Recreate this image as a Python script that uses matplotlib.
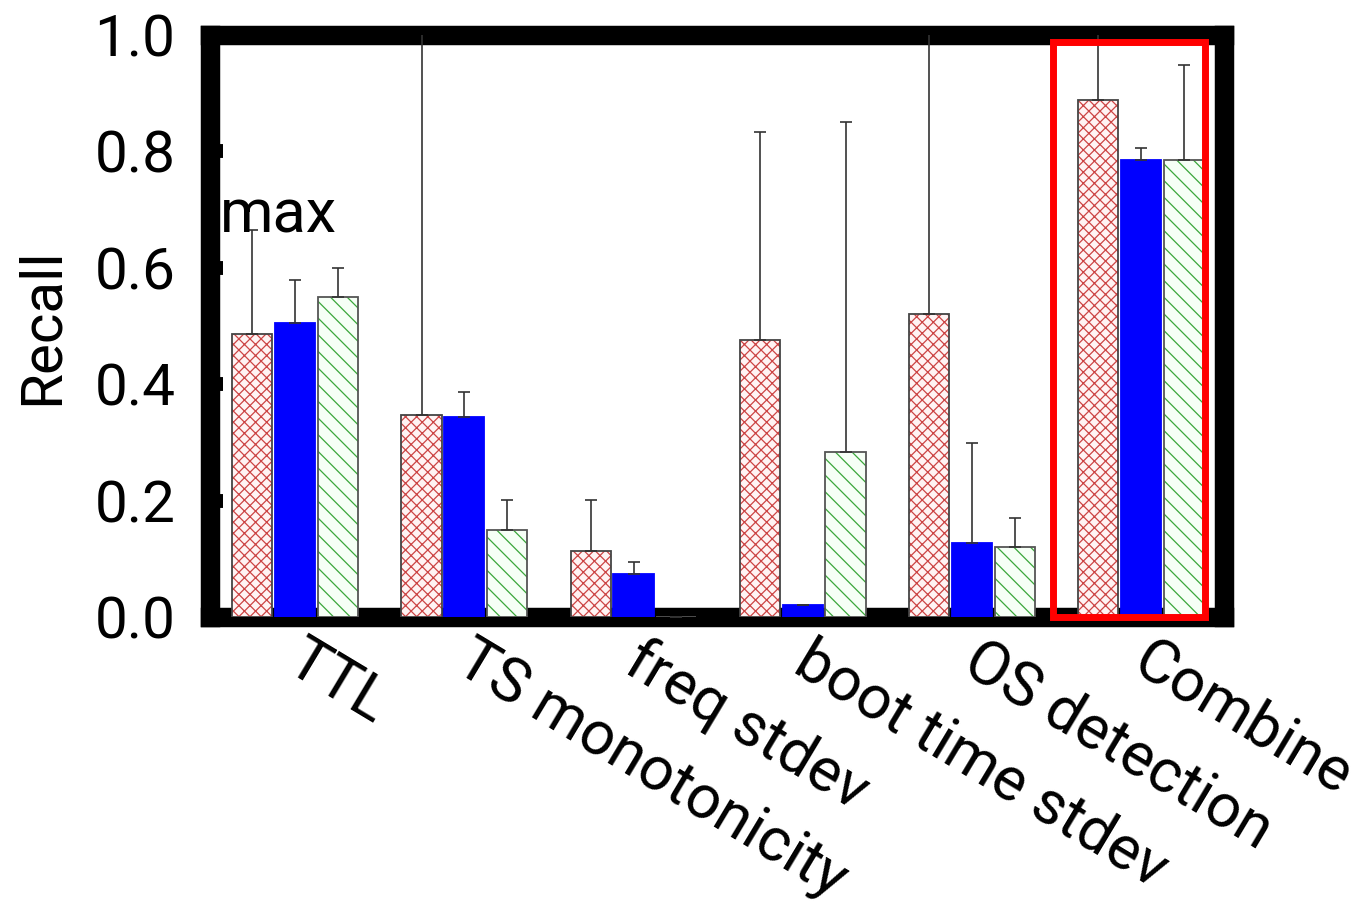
#!/usr/bin/env python3
"""
Recall per feature (three classifiers), combined result boxed in red.
"""

import numpy as np
import matplotlib.pyplot as plt
from matplotlib.patches import Rectangle

plt.rcParams['font.family'] = ['Roboto', 'DejaVu Sans']
plt.rcParams['hatch.linewidth'] = 0.9

features = ['TTL', 'TS monotonicity', 'freq stdev', 'boot time stdev',
            'OS detection', 'Combine']
# bar heights (mean recall)
red_vals = [0.486, 0.347, 0.113, 0.476, 0.521, 0.888]
blue_vals = [0.505, 0.344, 0.074, 0.020, 0.127, 0.785]
green_vals = [0.550, 0.149, 0.000, 0.283, 0.120, 0.785]
# top of the error whiskers (values above 1 run off the frame)
red_err_top = [0.665, 1.10, 0.201, 0.833, 1.10, 1.10]
blue_err_top = [0.579, 0.387, 0.094, 0.020, 0.299, 0.806]
green_err_top = [0.600, 0.201, 0.000, 0.850, 0.170, 0.948]
yticks = [0.0, 0.2, 0.4, 0.6, 0.8, 1.0]


def main():
    fig = plt.figure(figsize=(13.69, 9.07), dpi=100)
    ax = fig.add_axes([0.1534, 0.3197, 0.7407, 0.6417])

    x = np.arange(len(features))
    w = 0.237
    step = 0.253

    series = [
        (red_vals, red_err_top, -step, '#fff3f3', '#cc4444', 'xxx', '#444444'),
        (blue_vals, blue_err_top, 0.0, '#0000ff', '#0000ff', None, '#0000ff'),
        (green_vals, green_err_top, step, '#f6fff6', '#3aa63a', '\\\\', '#555555'),
    ]
    for vals, tops, off, fc, hc, hatch, ec in series:
        pos = x + off
        vals = np.array(vals)
        ax.bar(pos, vals, w, facecolor=fc, edgecolor=hc, hatch=hatch,
               linewidth=0, zorder=3)
        ax.bar(pos, vals, w, facecolor='none', edgecolor=ec,
               linewidth=1.3, zorder=3.1)
        up = np.clip(np.array(tops) - vals, 0, None)
        ax.errorbar(pos, vals, yerr=[np.zeros_like(up), up], fmt='none',
                    ecolor='#333333', elinewidth=1.2, capsize=4.5,
                    capthick=1.2, zorder=4)

    ax.set_xlim(-0.503, 5.49)
    ax.set_ylim(0, 1)
    ax.set_yticks(yticks)
    ax.set_yticklabels([f'{v:.1f}' for v in yticks])
    # labels hang from just right of each group centre
    ax.set_xticks(x + 0.07)
    ax.set_xticklabels(features, rotation=-31, ha='left', va='top',
                       rotation_mode='anchor')
    ax.tick_params(axis='y', direction='in', length=9, width=10,
                   labelsize=42, pad=25)
    ax.tick_params(axis='x', length=0, labelsize=44, pad=10)
    ax.set_ylabel('Recall', fontsize=42, labelpad=18)

    for s in ax.spines.values():
        s.set_linewidth(14)
        s.set_zorder(2.5)

    ax.text(0.01, 0.661, 'max', transform=ax.transAxes, fontsize=44,
            ha='left', va='baseline', zorder=5)

    # highlight the combined result
    ax.add_patch(Rectangle((4.48, 0.0), 0.90, 0.988, fill=False,
                           edgecolor='#ff0000', linewidth=5, zorder=6,
                           clip_on=False))

    plt.savefig('out.png', dpi=100)
    plt.close()


if __name__ == '__main__':
    main()
